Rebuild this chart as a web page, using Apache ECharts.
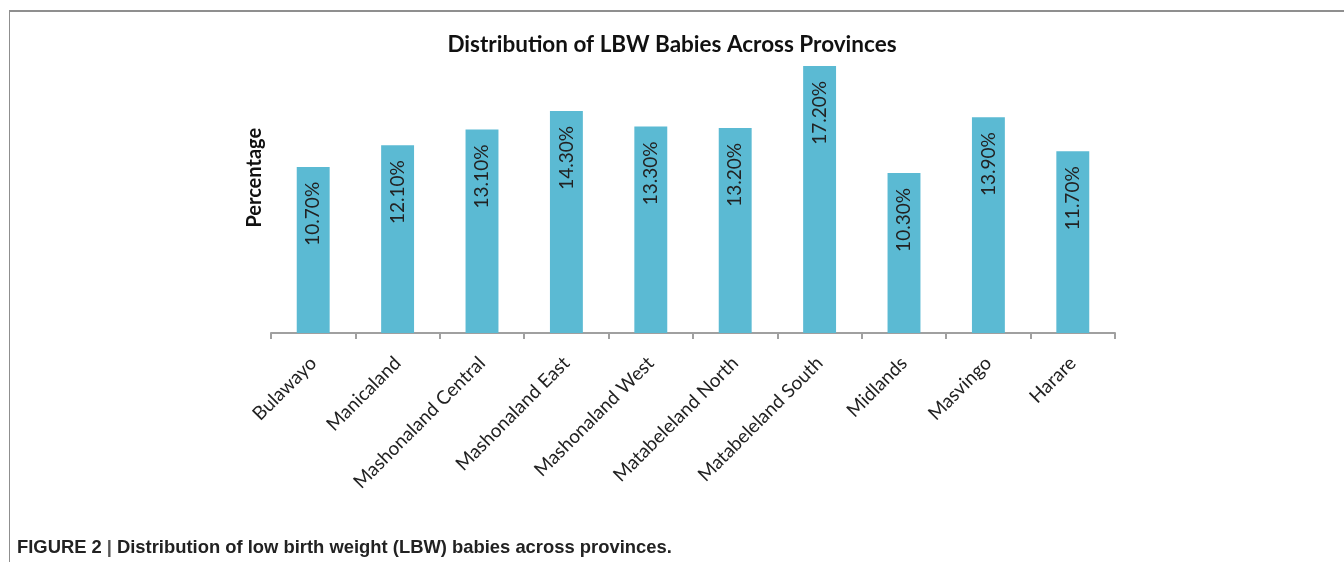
<!DOCTYPE html>
<html>
<head>
<meta charset="utf-8">
<script src="https://cdn.jsdelivr.net/npm/echarts@6/dist/echarts.min.js"></script>
<style>
  html, body { margin: 0; padding: 0; background: #fff; }
  #frame { position: absolute; left: 9px; top: 10px; width: 1400px; height: 600px;
           border-left: 1px solid #8f8f8f; border-top: 2px solid #8f8f8f; }
  #chart { position: absolute; left: 0; top: 0; width: 1344px; height: 562px; }
</style>
</head>
<body>
<div id="frame"></div>
<div id="chart"></div>
<script>
const provinces = [
  'Bulawayo', 'Manicaland', 'Mashonaland Central', 'Mashonaland East',
  'Mashonaland West', 'Matabeleland North', 'Matabeleland South',
  'Midlands', 'Masvingo', 'Harare'
]
const lbwPercent = [10.7, 12.1, 13.1, 14.3, 13.3, 13.2, 17.2, 10.3, 13.9, 11.7]

const chart = echarts.init(document.getElementById('chart'))

chart.setOption({
  animation: false,
  title: [
    {
      text: 'Distribution of LBW Babies Across Provinces',
      left: 'center',
      top: 28,
      textStyle: { fontFamily: 'Lato', fontWeight: 'bold', fontSize: 22.5, color: '#111' }
    },
    {
      text: '{b|FIGURE 2} {s||} {b|Distribution of low birth weight (LBW) babies across provinces}{n|.}',
      left: 12,
      top: 534,
      textStyle: {
        rich: {
          b: { fontFamily: 'Liberation Sans', fontWeight: 'bold', fontSize: 18.4, color: '#222' },
          s: { fontFamily: 'Liberation Sans', fontSize: 18.4, color: '#555' },
          n: { fontFamily: 'Liberation Sans', fontSize: 18.4, color: '#222' }
        }
      }
    }
  ],
  grid: {
    left: 271,
    right: 229,
    top: 22.5,
    bottom: 229
  },
  xAxis: {
    type: 'category',
    data: provinces,
    axisLine: { lineStyle: { color: '#a0a0a0', width: 2 } },
    axisTick: { show: true, length: 6, lineStyle: { color: '#a0a0a0', width: 2 } },
    axisLabel: {
      interval: 0,
      rotate: 45,
      margin: 27,
      fontFamily: 'Lato',
      fontSize: 19,
      color: '#222'
    }
  },
  yAxis: {
    type: 'value',
    min: 0,
    max: 20,
    name: 'Percentage',
    nameLocation: 'middle',
    nameRotate: 90,
    nameGap: 6,
    nameTextStyle: { fontFamily: 'Lato', fontWeight: 'bold', fontSize: 20, color: '#111' },
    axisLine: { show: false },
    axisTick: { show: false },
    axisLabel: { show: false },
    splitLine: { show: false }
  },
  series: [
    {
      type: 'bar',
      data: lbwPercent,
      barWidth: '39%',
      itemStyle: { color: '#5bbad3' },
      label: {
        show: true,
        position: 'insideTop',
        rotate: 90,
        align: 'right',
        verticalAlign: 'middle',
        distance: 15,
        fontFamily: 'Lato',
        fontSize: 19,
        color: '#222',
        formatter: p => p.value.toFixed(2) + '%'
      }
    }
  ]
})
</script>
</body>
</html>
